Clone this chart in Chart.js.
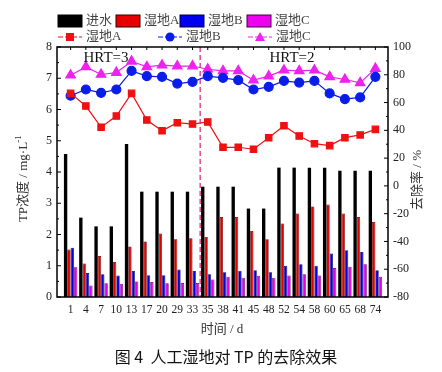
<!DOCTYPE html>
<html>
<head>
<meta charset="utf-8">
<title>TP removal</title>
<style>
  html, body { margin: 0; padding: 0; background: #fff; }
  #wrap { width: 442px; height: 372px; }
</style>
</head>
<body>
<div id="wrap"><canvas id="tpChart" width="442" height="372"></canvas></div>
<script src="https://cdn.jsdelivr.net/npm/chart.js"></script>
<script>
// days
const days = ['1','4','7','10','13','17','20','29','33','35','38','41','45','48','52','54','58','60','65','68','74'];

// TP concentration, mg/L
const inflow = [4.58,2.54,2.26,2.26,4.9,3.37,3.37,3.37,3.37,3.53,3.53,3.53,2.83,2.83,4.14,4.14,4.14,4.14,4.04,4.04,4.04];
const tpA    = [1.52,1.07,1.31,1.12,1.62,1.78,2.03,1.85,1.88,1.92,2.56,2.56,2.11,1.85,2.35,2.67,2.9,2.96,2.67,2.56,2.4];
const tpB    = [1.58,0.77,0.73,0.69,0.83,0.7,0.7,0.88,0.83,0.73,0.79,0.84,0.86,0.79,1.0,1.05,1.0,1.39,1.5,1.44,0.86];
const tpC    = [0.95,0.37,0.44,0.42,0.5,0.48,0.44,0.45,0.45,0.56,0.65,0.62,0.68,0.62,0.69,0.73,0.69,0.93,0.97,1.05,0.65];

// removal rate, %
const rateA = [66.6,57.5,42.2,50.3,66.6,47.4,39.7,45.5,44.5,46,27.8,27.8,26.4,34.7,43.3,35.9,30.4,29,34.7,36.7,40.7];
const rateB = [64.9,69.4,67,69.4,82.8,79,78.5,73.7,74.9,79,77.8,76.1,69.4,71.3,75.6,74.4,75.6,66.6,62.5,63.7,78.5];
const rateC = [79.7,85.7,80.2,81.6,89.7,85.7,86.9,86.3,86.3,84,82.8,82.8,76.1,79,83.3,82.8,83.3,78.5,76.6,74.2,84.5];

const serif = '"Liberation Serif", "Noto Sans CJK SC", serif';
const cjk = '"Noto Sans CJK SC", "Liberation Serif", sans-serif';
const gap = 6; // frame sits a little outside the category band

const decor = {
  id: 'decor',
  afterDraw(chart) {
    const ctx = chart.ctx;
    const a = chart.chartArea;
    const x = chart.scales.x, y = chart.scales.y, y1 = chart.scales.y1;
    const L = a.left - gap, R = a.right + 5;
    ctx.save();

    // dashed separator between HRT=3 and HRT=2
    const xs = (x.getPixelForValue(8) + x.getPixelForValue(9)) / 2;
    ctx.strokeStyle = '#d6206e';
    ctx.lineWidth = 1.2;
    ctx.setLineDash([5, 3]);
    ctx.beginPath(); ctx.moveTo(xs, a.top); ctx.lineTo(xs, a.bottom); ctx.stroke();
    ctx.setLineDash([]);

    // frame
    ctx.strokeStyle = '#000';
    ctx.lineWidth = 1.5;
    ctx.strokeRect(L, a.top, R - L, a.bottom - a.top);

    // inward ticks
    ctx.lineWidth = 1;
    ctx.beginPath();
    for (let v = 0; v <= 8; v += 0.5) {
      const py = y.getPixelForValue(v), len = v % 1 === 0 ? 4 : 2;
      ctx.moveTo(L, py); ctx.lineTo(L + len, py);
    }
    for (let v = -80; v <= 100; v += 10) {
      const py = y1.getPixelForValue(v), len = v % 20 === 0 ? 4 : 2;
      ctx.moveTo(R, py); ctx.lineTo(R - len, py);
    }
    for (let i = 0; i < days.length; i++) {
      const px = x.getPixelForValue(i);
      ctx.moveTo(px, a.top); ctx.lineTo(px, a.top + 3);
    }
    ctx.stroke();

    // HRT labels
    ctx.fillStyle = '#111';
    ctx.font = '15px ' + serif;
    ctx.textAlign = 'center';
    ctx.textBaseline = 'middle';
    ctx.fillText('HRT=3', 106, 58);
    ctx.fillText('HRT=2', 292, 58);

    // legend
    ctx.font = '13px ' + serif;
    ctx.textAlign = 'left';
    const boxes = [['进水', 58, '#000', '#000'], ['湿地A', 116, '#e80000', '#300'],
                   ['湿地B', 180, '#0000f0', '#000040'], ['湿地C', 247, '#f000f0', '#400040']];
    boxes.forEach(([t, bx, fill, edge]) => {
      ctx.fillStyle = fill; ctx.fillRect(bx, 15, 24, 12);
      ctx.strokeStyle = edge; ctx.lineWidth = 1; ctx.strokeRect(bx, 15, 24, 12);
      ctx.fillStyle = '#444'; ctx.fillText(t, bx + 28, 21);
    });
    const lines = [['湿地A', 58, '#ee1111', 'rect'], ['湿地B', 158, '#0a1de8', 'circle'], ['湿地C', 248, '#ee22ee', 'triangle']];
    lines.forEach(([t, lx, col, shape]) => {
      ctx.strokeStyle = col; ctx.fillStyle = col; ctx.lineWidth = 1.2;
      ctx.setLineDash([5, 2]);
      ctx.beginPath(); ctx.moveTo(lx, 37); ctx.lineTo(lx + 24, 37); ctx.stroke();
      ctx.setLineDash([]);
      const cx = lx + 12;
      ctx.beginPath();
      if (shape === 'rect') ctx.rect(cx - 4, 33, 8, 8);
      else if (shape === 'circle') ctx.arc(cx, 37, 4.5, 0, Math.PI * 2);
      else { ctx.moveTo(cx, 32); ctx.lineTo(cx + 5, 41); ctx.lineTo(cx - 5, 41); ctx.closePath(); }
      ctx.fill();
      ctx.fillStyle = '#444'; ctx.fillText(t, lx + 28, 37);
    });

    // axis titles
    ctx.fillStyle = '#333';
    ctx.textAlign = 'center';
    ctx.font = '13px ' + serif;
    ctx.save();
    ctx.translate(24, 178); ctx.rotate(-Math.PI / 2);
    ctx.fillText('TP浓度 / mg·L', -4, 0);
    ctx.font = '9px ' + serif;
    ctx.fillText('-1', 39, -5);
    ctx.restore();
    ctx.save();
    ctx.translate(418, 180); ctx.rotate(-Math.PI / 2);
    ctx.font = '13px ' + serif;
    ctx.fillText('去除率 / %', 0, 0);
    ctx.restore();

    ctx.font = '13px ' + serif;
    ctx.fillText('时间 / d', 222, 330);

    ctx.fillStyle = '#111';
    ctx.font = '16px ' + cjk;
    ctx.fillText('图 4  人工湿地对 TP 的去除效果', 226, 357);
    ctx.restore();
  }
};

const barOpts = { categoryPercentage: 0.88, barPercentage: 1, yAxisID: 'y', order: 2 };
const lineOpts = { type: 'line', yAxisID: 'y1', borderWidth: 1.2, pointRadius: 4.5, order: 1, fill: false };

new Chart(document.getElementById('tpChart'), {
  data: {
    labels: days,
    datasets: [
      Object.assign({ type: 'bar', label: '进水', data: inflow, backgroundColor: '#000', borderWidth: 0 }, barOpts),
      Object.assign({ type: 'bar', label: '湿地A', data: tpA, backgroundColor: '#e00000', borderColor: '#6a0000', borderWidth: 0.7 }, barOpts),
      Object.assign({ type: 'bar', label: '湿地B', data: tpB, backgroundColor: '#0000e6', borderColor: '#000060', borderWidth: 0.7 }, barOpts),
      Object.assign({ type: 'bar', label: '湿地C', data: tpC, backgroundColor: '#e600e6', borderColor: '#600060', borderWidth: 0.7 }, barOpts),
      Object.assign({ label: '湿地A', data: rateA, borderColor: '#ee1111', backgroundColor: '#ee1111', pointStyle: 'rect' }, lineOpts),
      Object.assign({ label: '湿地B', data: rateB, borderColor: '#0a1de8', backgroundColor: '#0a1de8', pointStyle: 'circle' }, lineOpts),
      Object.assign({ label: '湿地C', data: rateC, borderColor: '#ee22ee', backgroundColor: '#ee22ee', pointStyle: 'triangle' }, lineOpts, { pointRadius: 5.5 })
    ]
  },
  options: {
    responsive: false,
    animation: false,
    layout: { padding: { top: 47, bottom: 55, left: 0, right: 0 } },
    plugins: { legend: { display: false }, tooltip: { enabled: false } },
    scales: {
      x: {
        offset: true,
        grid: { display: false, drawTicks: false },
        border: { display: false },
        ticks: { color: '#222', padding: 6, maxRotation: 0, autoSkip: false, font: { family: serif, size: 11.5 } },
        afterFit(s) { s.height = 20; }
      },
      y: {
        position: 'left', min: 0, max: 8,
        grid: { display: false, drawTicks: false },
        border: { display: false },
        ticks: { stepSize: 1, color: '#222', padding: 5 + gap, font: { family: serif, size: 12 } },
        afterFit(s) { s.width = 57 + gap; }
      },
      y1: {
        position: 'right', min: -80, max: 100,
        grid: { display: false, drawTicks: false },
        border: { display: false },
        ticks: { stepSize: 20, color: '#222', padding: 10, font: { family: serif, size: 12 } },
        afterFit(s) { s.width = 59; }
      }
    }
  },
  plugins: [decor]
});
</script>
</body>
</html>
